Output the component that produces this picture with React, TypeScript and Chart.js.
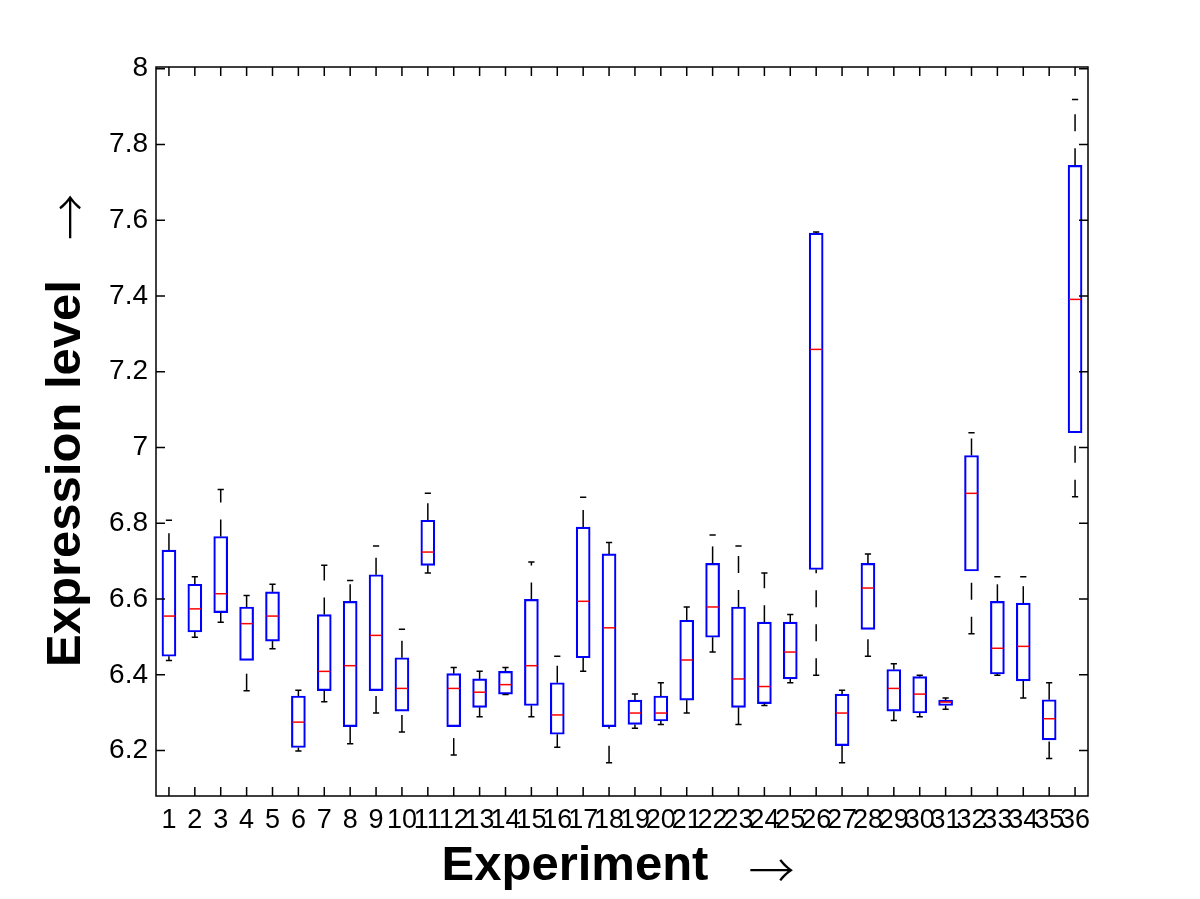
import { useEffect, useRef } from 'react';
import { Chart, registerables } from 'chart.js';

Chart.register(...registerables);

const EXPERIMENTS = [1, 2, 3, 4, 5, 6, 7, 8, 9, 10, 11, 12, 13, 14, 15, 16, 17, 18, 19, 20, 21, 22, 23, 24, 25, 26, 27, 28, 29, 30, 31, 32, 33, 34, 35, 36];
const X_TICK_LABELS = EXPERIMENTS.map((e) => String(e));

const Q1 = [6.449, 6.513, 6.564, 6.438, 6.489, 6.208, 6.358, 6.263, 6.358, 6.304, 6.689, 6.263, 6.314, 6.349, 6.319, 6.243, 6.445, 6.263, 6.269, 6.278, 6.333, 6.499, 6.314, 6.324, 6.389, 6.678, 6.213, 6.52, 6.304, 6.299, 6.319, 6.674, 6.402, 6.384, 6.228, 7.039];
const Q3 = [6.729, 6.639, 6.765, 6.579, 6.619, 6.344, 6.559, 6.594, 6.664, 6.445, 6.808, 6.403, 6.389, 6.409, 6.599, 6.379, 6.79, 6.719, 6.333, 6.344, 6.544, 6.694, 6.579, 6.539, 6.539, 7.566, 6.349, 6.694, 6.414, 6.395, 6.333, 6.979, 6.594, 6.589, 6.334, 7.745];
const MEDIAN = [6.555, 6.574, 6.614, 6.535, 6.555, 6.275, 6.409, 6.424, 6.504, 6.364, 6.724, 6.364, 6.354, 6.374, 6.424, 6.294, 6.594, 6.524, 6.299, 6.299, 6.439, 6.579, 6.389, 6.369, 6.46, 7.259, 6.299, 6.629, 6.364, 6.349, 6.328, 6.879, 6.47, 6.475, 6.284, 7.391];
const WHISKER_LOW = [6.438, 6.499, 6.539, 6.358, 6.469, 6.199, 6.329, 6.218, 6.299, 6.249, 6.669, 6.188, 6.289, 6.348, 6.289, 6.209, 6.409, 6.168, 6.259, 6.269, 6.299, 6.46, 6.269, 6.319, 6.379, 6.399, 6.168, 6.449, 6.279, 6.289, 6.309, 6.508, 6.399, 6.339, 6.179, 6.87];
const WHISKER_HIGH = [6.808, 6.659, 6.889, 6.609, 6.639, 6.359, 6.689, 6.649, 6.74, 6.52, 6.879, 6.419, 6.409, 6.419, 6.698, 6.449, 6.869, 6.749, 6.349, 6.379, 6.579, 6.769, 6.74, 6.669, 6.559, 7.569, 6.359, 6.719, 6.429, 6.399, 6.339, 7.039, 6.659, 6.659, 6.379, 7.919];

const Y_TICKS = [6.2, 6.4, 6.6, 6.8, 7, 7.2, 7.4, 7.6, 7.8, 8];
const Y_TICK_LABELS = ['6.2', '6.4', '6.6', '6.8', '7', '7.2', '7.4', '7.6', '7.8', '8'];

const X_TITLE = 'Experiment';
const Y_TITLE = 'Expression level';
const ARROW = '\u2192';

const FONT = "'Liberation Sans', Arial, Helvetica, sans-serif";
const TITLE_FONT = `bold 49px ${FONT}`;
const ARROW_FONT = "300 46px 'Noto Sans CJK JP', 'Noto Sans CJK SC', 'DejaVu Sans', sans-serif";
const ARROW_GAP = 40;
const BOX_HALF = 0.25;
const CAP_HALF = 0.12;
const TICK_LEN = 9;

function drawTitle(ctx: CanvasRenderingContext2D, text: string, centerX: number, baselineY: number) {
  ctx.font = TITLE_FONT;
  const wText = ctx.measureText(text).width;
  ctx.font = ARROW_FONT;
  const wArrow = ctx.measureText(ARROW).width;
  const total = wText + ARROW_GAP + wArrow;
  const start = centerX - total / 2;
  ctx.fillStyle = '#000000';
  ctx.textAlign = 'left';
  ctx.textBaseline = 'alphabetic';
  ctx.font = TITLE_FONT;
  ctx.fillText(text, start, baselineY);
  ctx.font = ARROW_FONT;
  ctx.textBaseline = 'middle';
  ctx.fillText(ARROW, start + wText + ARROW_GAP, baselineY - 10);
}

const boxPlugin = {
  id: 'boxExtras',
  afterDatasetsDraw(chart: any) {
    const { ctx, scales } = chart;
    const xs = scales.x;
    const ys = scales.y;
    ctx.save();
    ctx.lineCap = 'butt';
    EXPERIMENTS.forEach((e, i) => {
      const xc = xs.getPixelForValue(e);
      const capL = xs.getPixelForValue(e - CAP_HALF);
      const capR = xs.getPixelForValue(e + CAP_HALF);
      const boxL = xs.getPixelForValue(e - BOX_HALF);
      const boxR = xs.getPixelForValue(e + BOX_HALF);
      const yLo = ys.getPixelForValue(WHISKER_LOW[i]);
      const yQ1 = ys.getPixelForValue(Q1[i]);
      const yQ3 = ys.getPixelForValue(Q3[i]);
      const yHi = ys.getPixelForValue(WHISKER_HIGH[i]);
      const yMed = ys.getPixelForValue(MEDIAN[i]);
      ctx.strokeStyle = '#000000';
      ctx.lineWidth = 1.5;
      ctx.setLineDash([17, 17]);
      ctx.lineDashOffset = 0;
      ctx.beginPath();
      ctx.moveTo(xc, yQ3);
      ctx.lineTo(xc, yHi);
      ctx.stroke();
      ctx.beginPath();
      ctx.moveTo(xc, yLo);
      ctx.lineTo(xc, yQ1);
      ctx.stroke();
      ctx.setLineDash([]);
      ctx.beginPath();
      ctx.moveTo(capL, yHi);
      ctx.lineTo(capR, yHi);
      ctx.moveTo(capL, yLo);
      ctx.lineTo(capR, yLo);
      ctx.stroke();
      ctx.strokeStyle = '#ff0000';
      ctx.beginPath();
      ctx.moveTo(boxL + 0.5, yMed);
      ctx.lineTo(boxR - 0.5, yMed);
      ctx.stroke();
    });
    ctx.restore();
  },
  afterDraw(chart: any) {
    const { ctx, chartArea, scales } = chart;
    const { left, right, top, bottom } = chartArea;
    ctx.save();
    ctx.strokeStyle = '#000000';
    ctx.lineWidth = 1.5;
    ctx.setLineDash([]);
    ctx.beginPath();
    ctx.rect(left, top, right - left, bottom - top);
    ctx.stroke();
    ctx.beginPath();
    scales.x.ticks.forEach((t: any) => {
      const px = scales.x.getPixelForValue(t.value);
      ctx.moveTo(px, bottom);
      ctx.lineTo(px, bottom - TICK_LEN);
      ctx.moveTo(px, top);
      ctx.lineTo(px, top + TICK_LEN);
    });
    scales.y.ticks.forEach((t: any) => {
      const py = scales.y.getPixelForValue(t.value);
      ctx.moveTo(left, py);
      ctx.lineTo(left + TICK_LEN, py);
      ctx.moveTo(right, py);
      ctx.lineTo(right - TICK_LEN, py);
    });
    ctx.stroke();

    drawTitle(ctx, X_TITLE, (left + right) / 2 - 4, bottom + 84);
    ctx.save();
    ctx.translate(left - 76, (top + bottom) / 2 - 1);
    ctx.rotate(-Math.PI / 2);
    drawTitle(ctx, Y_TITLE, 0, 0);
    ctx.restore();
    ctx.restore();
  },
};

export default function App() {
  const canvasRef = useRef<HTMLCanvasElement | null>(null);

  useEffect(() => {
    document.body.style.margin = '0';
    const canvas = canvasRef.current;
    if (!canvas) return;
    const chart = new Chart(canvas, {
      type: 'bar',
      data: {
        datasets: [
          {
            label: 'IQR',
            data: EXPERIMENTS.map((e, i) => ({ x: e, y: [Q1[i], Q3[i]] })) as any,
            backgroundColor: 'rgba(0,0,0,0)',
            borderColor: '#0000ff',
            borderWidth: 1.5,
            borderSkipped: false,
            barThickness: 14,
          },
        ],
      },
      options: {
        responsive: false,
        animation: false,
        devicePixelRatio: 1,
        layout: { padding: { top: 67, right: 112, bottom: 0, left: 0 } },
        plugins: {
          legend: { display: false },
          tooltip: { enabled: false },
        },
        scales: {
          x: {
            type: 'linear',
            min: 0.5,
            max: 36.5,
            offset: false,
            grid: { display: false, drawTicks: false },
            border: { display: false },
            afterBuildTicks: (s: any) => {
              s.ticks = EXPERIMENTS.map((v) => ({ value: v }));
            },
            afterFit: (s: any) => {
              s.height = 103;
            },
            ticks: {
              autoSkip: false,
              maxRotation: 0,
              minRotation: 0,
              padding: 8,
              color: '#000000',
              font: { family: FONT, size: 27 },
              callback: (_v: any, i: number) => X_TICK_LABELS[i],
            },
            title: { display: false },
          },
          y: {
            type: 'linear',
            min: 6.08,
            max: 8.0045,
            grid: { display: false, drawTicks: false },
            border: { display: false },
            afterBuildTicks: (s: any) => {
              s.ticks = Y_TICKS.map((v) => ({ value: v }));
            },
            afterFit: (s: any) => {
              s.width = 156;
            },
            ticks: {
              padding: 8,
              color: '#000000',
              font: { family: FONT, size: 28 },
              callback: (_v: any, i: number) => Y_TICK_LABELS[i],
            },
            title: { display: false },
          },
        },
      },
      plugins: [boxPlugin],
    });
    return () => {
      chart.destroy();
    };
  }, []);

  return <canvas ref={canvasRef} width={1200} height={899} style={{ display: 'block' }} />;
}
